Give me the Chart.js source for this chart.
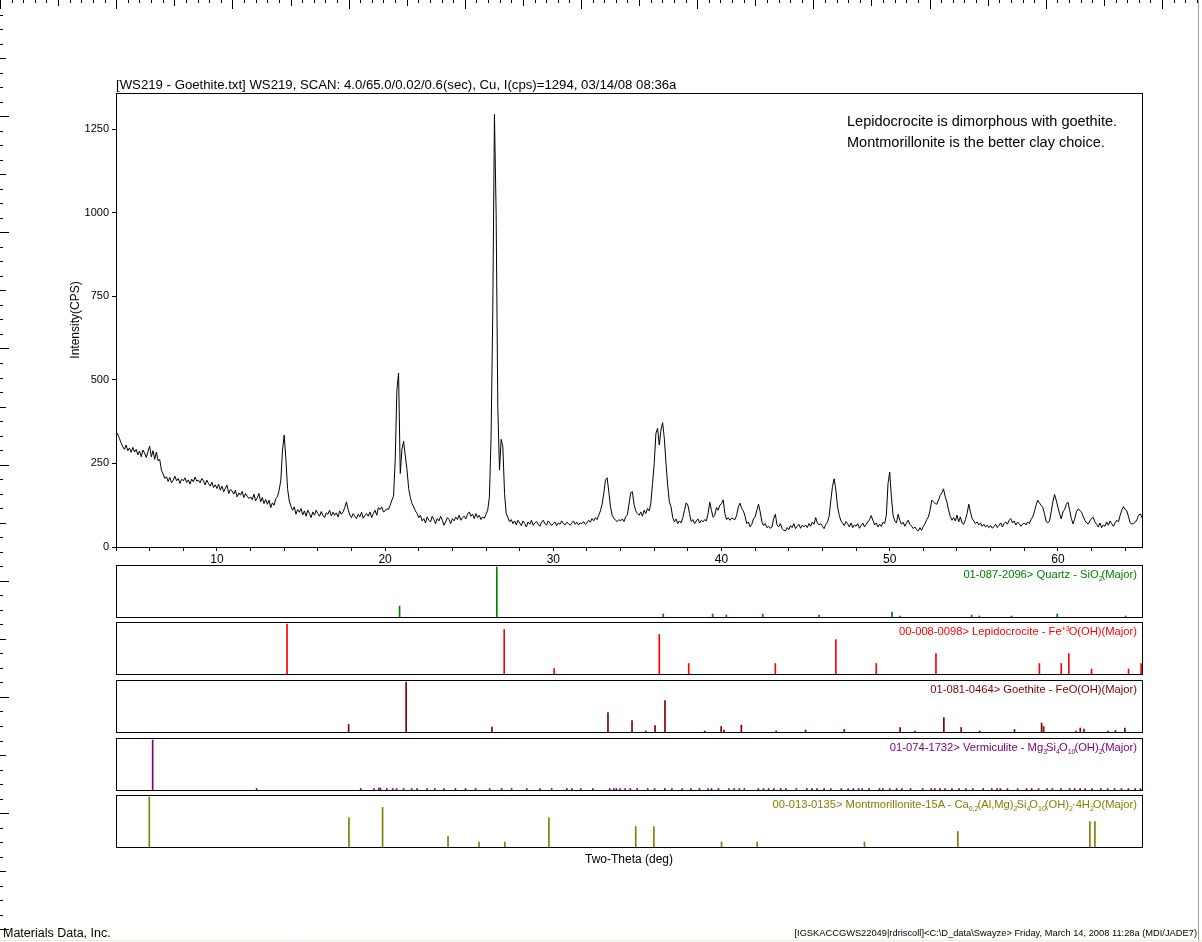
<!DOCTYPE html>
<html lang="en">
<head>
<meta charset="UTF-8">
<title>WS219 - Goethite XRD pattern</title>
<script src="https://cdn.jsdelivr.net/npm/chart.js"></script>
<style>
    body {
        margin: 0;
        padding: 0;
        background: #fff;
        font-family: "Liberation Sans", Arial, sans-serif;
        color: #000;
    }
    #page {
        position: relative;
        width: 1202px;
        height: 942px;
        overflow: hidden;
    }
    #page canvas {
        position: absolute;
        left: 0;
        top: 0;
    }
    .note {
        position: absolute;
        left: 847px;
        top: 111px;
        font-size: 14.5px;
        line-height: 21px;
        white-space: nowrap;
    }
    .card {
        position: absolute;
        right: 65px;
        font-size: 11.2px;
        line-height: 13px;
        white-space: nowrap;
    }
    .card sub, .card sup {
        font-size: 7px;
        line-height: 0;
        position: relative;
        margin-right: -1px;
    }
    .card sub { vertical-align: baseline; top: 3px; }
    .card sup { vertical-align: baseline; top: -4px; }
    .foot-left {
        position: absolute;
        left: 3px;
        top: 926px;
        font-size: 12.5px;
        line-height: 15px;
    }
    .foot-right {
        position: absolute;
        right: 5px;
        top: 928px;
        font-size: 9.3px;
        line-height: 11px;
        white-space: nowrap;
    }
</style>
</head>
<body>
<div id="page">
    <canvas id="mainChart" width="1202" height="942"></canvas>
    <canvas id="quartzChart" width="1202" height="942"></canvas>
    <canvas id="lepidoChart" width="1202" height="942"></canvas>
    <canvas id="goethiteChart" width="1202" height="942"></canvas>
    <canvas id="vermChart" width="1202" height="942"></canvas>
    <canvas id="montChart" width="1202" height="942"></canvas>

    <div class="note">Lepidocrocite is dimorphous with goethite.<br>Montmorillonite is the better clay choice.</div>

    <div class="card" style="top:568px; color:#008000">01-087-2096&gt; Quartz - SiO<sub>2</sub>(Major)</div>
    <div class="card" style="top:625px; color:#ff0000">00-008-0098&gt; Lepidocrocite - Fe<sup>+3</sup>O(OH)(Major)</div>
    <div class="card" style="top:683px; color:#800000">01-081-0464&gt; Goethite - FeO(OH)(Major)</div>
    <div class="card" style="top:741px; color:#800080">01-074-1732&gt; Vermiculite - Mg<sub>3</sub>Si<sub>4</sub>O<sub>10</sub>(OH)<sub>2</sub>(Major)</div>
    <div class="card" style="top:798px; color:#808000">00-013-0135&gt; Montmorillonite-15A - Ca<sub>0.2</sub>(Al,Mg)<sub>2</sub>Si<sub>4</sub>O<sub>10</sub>(OH)<sub>2</sub>·4H<sub>2</sub>O(Major)</div>

    <div class="foot-left">Materials Data, Inc.</div>
    <div class="foot-right">[IGSKACCGWS22049|rdriscoll]&lt;C:\D_data\Swayze&gt; Friday, March 14, 2008 11:28a (MDI/JADE7)</div>
</div>

<script>
    // scan: counts per second, one value every 0.1 deg from 4.0
    const scanStart = 4.0;
    const sampleStep = 0.1;
    const intensity = [
        345, 338, 325, 312, 300, 292, 305, 288, 296, 283,   // 4
        298, 284, 292, 276, 287, 270, 290, 281, 268, 285,   // 5
        302, 270, 288, 262, 284, 258, 262, 230, 218, 205,   // 6
        210, 196, 208, 192, 200, 212, 198, 205, 190, 203,   // 7
        198, 207, 193, 201, 188, 203, 195, 209, 197, 200,   // 8
        192, 205, 198, 186, 200, 190, 182, 194, 178, 186,   // 9
        175, 188, 170, 182, 165, 176, 185, 160, 172, 168,   // 10
        158, 170, 150, 162, 155, 166, 148, 160, 152, 145,   // 11
        150, 142, 158, 138, 147, 160, 135, 148, 130, 142,   // 12
        128, 140, 118, 132, 125, 145, 150, 170, 200, 290,   // 13
        335, 262, 175, 138, 122, 110, 120, 98, 112, 104,    // 14
        115, 96, 108, 92, 110, 100, 88, 105, 95, 110,       // 15
        100, 92, 106, 95, 88, 102, 98, 110, 93, 104,        // 16
        95, 102, 90, 108, 98, 105, 118, 135, 112, 96,       // 17
        88, 100, 92, 85, 98, 90, 104, 86, 95, 100,          // 18
        92, 105, 88, 100, 110, 95, 118, 112, 120, 105,      // 19
        108, 115, 112, 125, 140, 152, 260, 470, 520, 220,   // 20
        292, 316, 272, 232, 175, 148, 130, 120, 108, 100,   // 21
        88, 95, 78, 85, 72, 90, 80, 75, 92, 82,             // 22
        70, 85, 78, 92, 80, 65, 75, 88, 82, 70,             // 23
        85, 78, 90, 82, 95, 80, 88, 92, 84, 98,             // 24
        105, 92, 98, 85, 100, 88, 95, 82, 90, 86,           // 25
        98, 110, 150, 330, 700, 1294, 1000, 420, 230, 322,  // 26
        300, 160, 100, 88, 75, 82, 70, 78, 66, 80,          // 27
        72, 64, 78, 70, 60, 75, 68, 80, 65, 72,             // 28
        76, 68, 62, 74, 80, 70, 66, 78, 72, 64,             // 29
        70, 75, 64, 72, 68, 78, 70, 66, 74, 70,             // 30
        65, 72, 78, 68, 74, 66, 72, 70, 76, 68,             // 31
        72, 80, 74, 85, 78, 88, 82, 95, 108, 128,           // 32
        160, 200, 207, 165, 120, 95, 86, 80, 76, 82,        // 33
        78, 84, 76, 90, 96, 128, 162, 165, 128, 108,        // 34
        100, 95, 105, 92, 110, 100, 115, 108, 132, 190,     // 35
        250, 340, 355, 305, 350, 372, 325, 250, 185, 135,   // 36
        120, 88, 75, 84, 70, 78, 72, 88, 110, 132,          // 37
        125, 100, 76, 82, 70, 78, 84, 72, 80, 75,           // 38
        82, 78, 100, 134, 110, 89, 95, 118, 110, 125,       // 39
        130, 141, 100, 82, 88, 80, 86, 84, 82, 95,          // 40
        120, 131, 115, 108, 92, 70, 75, 60, 68, 84,         // 41
        90, 110, 128, 105, 75, 64, 70, 58, 62, 56,          // 42
        60, 85, 98, 66, 60, 70, 55, 50, 48, 58,             // 43
        52, 64, 58, 70, 55, 62, 68, 56, 65, 60,             // 44
        66, 58, 70, 62, 75, 68, 88, 72, 66, 70,             // 45
        62, 55, 68, 75, 92, 140, 182, 204, 170, 120,        // 46
        95, 78, 72, 64, 76, 70, 60, 72, 58, 66,             // 47
        62, 70, 56, 64, 72, 60, 68, 75, 82, 94,             // 48
        80, 66, 72, 60, 68, 62, 74, 70, 95, 190,            // 49
        224, 150, 95, 78, 72, 98, 80, 68, 74, 62,           // 50
        72, 80, 68, 62, 55, 60, 52, 48, 58, 50,             // 51
        62, 70, 82, 90, 110, 140, 135, 130, 128, 140,       // 52
        154, 162, 174, 150, 135, 110, 92, 80, 88, 78,       // 53
        95, 75, 90, 72, 68, 82, 100, 128, 105, 85,          // 54
        78, 70, 75, 66, 72, 62, 68, 60, 65, 58,             // 55
        64, 56, 62, 68, 58, 65, 72, 60, 70, 75,             // 56
        68, 80, 85, 72, 78, 66, 74, 70, 62, 68,             // 57
        72, 66, 75, 70, 82, 90, 105, 125, 140, 132,         // 58
        125, 119, 100, 76, 72, 78, 105, 135, 157, 140,      // 59
        119, 100, 84, 105, 112, 128, 134, 110, 85, 69,      // 60
        85, 105, 114, 110, 104, 92, 80, 72, 69, 78,         // 61
        85, 89, 75, 68, 60, 72, 58, 66, 62, 75,             // 62
        65, 78, 70, 62, 72, 80, 75, 95, 110, 121,           // 63
        112, 108, 90, 72, 69, 70, 74, 82, 95, 99,           // 64
        88                                                  // 65
    ];

    const xMin = 4, xMax = 65;
    const xTickStep = 2;
    const xTickLabels = [10, 20, 30, 40, 50, 60];
    const yMax = 1358;
    const yTickValues = [0, 250, 500, 750, 1000, 1250];

    // reference patterns: line positions (2-theta) and relative intensity (%)
    const quartzPos = [20.86, 26.64, 36.54, 39.47, 40.29, 42.45, 45.79, 50.14, 50.62, 54.87, 55.33, 57.24, 59.96, 64.03];
    const quartzInt = [22, 100, 6, 6, 4, 6, 4, 10, 2, 4, 2, 2, 6, 2];

    const lepidoPos = [14.17, 27.08, 30.05, 36.3, 38.05, 43.2, 46.8, 49.2, 52.75, 58.9, 60.2, 60.65, 62.0, 64.2, 64.95];
    const lepidoInt = [100, 89, 11, 79, 21, 21, 69, 21, 41, 21, 21, 41, 10, 10, 21];

    const goethitePos = [17.83, 21.25, 26.35, 33.25, 34.68, 35.5, 36.05, 36.64, 39.0, 39.98, 40.15, 41.18, 43.25, 45.0,
        47.3, 50.62, 51.5, 53.22, 54.25, 55.35, 57.42, 59.03, 59.15, 61.08, 61.33, 61.55, 62.98, 63.42, 63.98];
    const goethiteInt = [15, 100, 10, 39, 23, 2, 13, 63, 2, 11, 4, 14, 2, 4,
        5, 9, 2, 29, 9, 2, 5, 18, 11, 2, 8, 6, 2, 3, 8];

    const vermPos = [6.18, 12.36, 18.55, 19.34, 19.62, 19.72, 20.1, 20.45, 20.68, 21.1, 21.58, 21.9, 22.5, 22.95,
        23.5, 24.18, 24.78, 25.38, 26.22, 26.93, 27.52, 28.42, 29.2, 29.9, 30.8, 31.1, 31.63, 32.35, 33.35, 33.6,
        33.75, 33.96, 34.27, 34.58, 34.99, 35.61, 36.02, 36.63, 37.05, 37.66, 38.18, 38.69, 39.2, 39.41, 39.82,
        40.44, 40.75, 41.06, 41.36, 42.19, 42.5, 42.8, 43.11, 43.52, 43.83, 44.45, 45.07, 45.37, 45.68, 46.1,
        46.5, 47.12, 47.53, 47.84, 48.15, 48.36, 48.77, 49.39, 49.59, 50.0, 50.41, 50.72, 51.24, 51.96, 52.47,
        52.68, 52.98, 53.29, 53.7, 54.12, 54.53, 54.94, 55.56, 56.07, 56.38, 56.58, 57.0, 57.61, 58.13, 58.44,
        58.85, 59.36, 59.67, 60.18, 60.7, 61.0, 61.32, 61.62, 62.03, 62.55, 62.96, 63.37, 63.78, 64.19, 64.6, 64.91];
    const vermInt = [100, 3, 3, 3, 4, 4, 3, 3, 3, 3, 3, 3, 3, 3,
        3, 3, 3, 3, 3, 3, 3, 3, 3, 3, 3, 3, 3, 3, 3, 3,
        3, 3, 3, 3, 3, 3, 3, 3, 3, 3, 3, 3, 3, 3, 3,
        3, 3, 3, 3, 3, 3, 3, 3, 3, 3, 3, 3, 3, 3, 3,
        3, 3, 3, 3, 3, 3, 3, 3, 3, 3, 3, 3, 3, 3, 3,
        3, 3, 3, 3, 3, 3, 3, 3, 3, 3, 3, 3, 3, 3, 3,
        3, 3, 3, 3, 3, 3, 3, 3, 3, 3, 3, 3, 3, 3, 3, 3];

    const montPos = [5.98, 17.85, 19.85, 23.74, 25.58, 27.12, 29.74, 34.9, 35.98, 40.0, 42.12, 48.5, 54.05, 61.9, 62.2];
    const montInt = [100, 59, 79, 21, 10, 10, 59, 41, 41, 10, 10, 10, 31, 51, 51];

    const titleText = '[WS219 - Goethite.txt] WS219, SCAN: 4.0/65.0/0.02/0.6(sec), Cu, I(cps)=1294, 03/14/08 08:36a';

    Chart.defaults.font.family = '"Liberation Sans", Arial, sans-serif';
    Chart.defaults.color = '#000';

    // box round the plotting area
    const framePlugin = {
        id: 'frame',
        afterDatasetsDraw(chart) {
            const { ctx, chartArea: a } = chart;
            ctx.save();
            ctx.strokeStyle = '#000';
            ctx.lineWidth = 1;
            ctx.strokeRect(Math.round(a.left) + 0.5, Math.round(a.top) + 0.5,
                Math.round(a.right - a.left), Math.round(a.bottom - a.top));
            ctx.restore();
        }
    };

    // page rulers on the top and left edges
    const rulerPlugin = {
        id: 'ruler',
        beforeDraw(chart) {
            const ctx = chart.ctx;
            ctx.save();
            ctx.strokeStyle = '#000';
            ctx.lineWidth = 1;
            ctx.beginPath();
            for (let i = 0; i * 11.62 < 1200; i++) {
                const x = Math.round(i * 11.62) + 0.5;
                const len = i % 10 === 0 ? 9 : (i % 5 === 0 ? 6 : 3);
                ctx.moveTo(x, 0);
                ctx.lineTo(x, len);
            }
            for (let i = 1; i * 14.52 < 930; i++) {
                const y = Math.round(i * 14.52) + 0.5;
                const len = i % 8 === 0 ? 9 : (i % 4 === 0 ? 6 : 3);
                ctx.moveTo(0, y);
                ctx.lineTo(len, y);
            }
            ctx.stroke();
            ctx.strokeStyle = '#a0a0a0';
            ctx.beginPath();
            ctx.moveTo(1198.5, 0);
            ctx.lineTo(1198.5, 942);
            ctx.stroke();
            ctx.strokeStyle = '#ece9d8';
            ctx.beginPath();
            ctx.moveTo(0, 940.5);
            ctx.lineTo(1202, 940.5);
            ctx.stroke();
            ctx.restore();
        }
    };

    function zeroPadding(scale) {
        scale.paddingLeft = 0;
        scale.paddingRight = 0;
        scale.paddingTop = 0;
        scale.paddingBottom = 0;
    }

    const scanPoints = intensity.map((v, i) => ({ x: scanStart + i * sampleStep, y: v }));

    new Chart(document.getElementById('mainChart'), {
        type: 'line',
        data: {
            datasets: [{
                data: scanPoints,
                borderColor: '#000',
                borderWidth: 1,
                pointRadius: 0,
                tension: 0,
                fill: false
            }]
        },
        options: {
            responsive: false,
            animation: false,
            events: [],
            layout: { padding: { left: 0, right: 60, top: 77.16, bottom: 375 } },
            plugins: {
                legend: { display: false },
                tooltip: { enabled: false },
                title: {
                    display: true,
                    text: titleText,
                    align: 'start',
                    fullSize: false,
                    color: '#000',
                    font: { size: 13.2, weight: 'normal' },
                    padding: { top: 0, bottom: 0 }
                }
            },
            scales: {
                x: {
                    type: 'linear',
                    min: xMin,
                    max: xMax,
                    afterBuildTicks: scale => {
                        const ticks = [];
                        for (let v = xMin; v < xMax; v += xTickStep) ticks.push({ value: v });
                        scale.ticks = ticks;
                    },
                    afterFit: scale => { scale.height = 20; zeroPadding(scale); },
                    ticks: {
                        autoSkip: false,
                        maxRotation: 0,
                        padding: 1,
                        font: { size: 12 },
                        callback: v => xTickLabels.includes(v) ? String(v) : ''
                    },
                    grid: { drawOnChartArea: false, tickLength: 4, color: '#000' },
                    border: { color: '#000' }
                },
                y: {
                    min: 0,
                    max: yMax,
                    afterBuildTicks: scale => {
                        scale.ticks = yTickValues.map(v => ({ value: v }));
                    },
                    afterFit: scale => { scale.width = 116; zeroPadding(scale); },
                    ticks: { padding: 3, font: { size: 11 }, callback: v => String(v) },
                    grid: { drawOnChartArea: false, tickLength: 4, color: '#000' },
                    border: { color: '#000' },
                    title: {
                        display: true,
                        text: 'Intensity(CPS)',
                        font: { size: 12 },
                        padding: { top: 68, bottom: 0 }
                    }
                }
            }
        },
        plugins: [rulerPlugin, framePlugin]
    });

    function stickPanel(canvasId, top, bottom, positions, heights, color, xTitle) {
        const xScale = {
            type: 'linear',
            min: xMin,
            max: xMax,
            offset: false,
            display: false
        };
        let padBottom = 942 - bottom;
        if (xTitle) {
            Object.assign(xScale, {
                display: true,
                ticks: { display: false },
                grid: { display: false },
                border: { display: false },
                title: { display: true, text: xTitle, font: { size: 12 }, padding: { top: 0, bottom: 0 } },
                afterFit: scale => { scale.height = 20; zeroPadding(scale); }
            });
            padBottom -= 20;
        }
        return new Chart(document.getElementById(canvasId), {
            type: 'bar',
            data: {
                datasets: [{
                    data: positions.map((p, i) => ({ x: p, y: heights[i] })),
                    backgroundColor: color,
                    borderWidth: 0,
                    barThickness: 1
                }]
            },
            options: {
                responsive: false,
                animation: false,
                events: [],
                layout: { padding: { left: 116, right: 60, top: top, bottom: padBottom } },
                plugins: { legend: { display: false }, tooltip: { enabled: false } },
                scales: {
                    x: xScale,
                    y: { min: 0, max: 104, display: false }
                }
            },
            plugins: [framePlugin]
        });
    }

    stickPanel('quartzChart', 565, 617, quartzPos, quartzInt, '#008000');
    stickPanel('lepidoChart', 622, 674, lepidoPos, lepidoInt, '#ff0000');
    stickPanel('goethiteChart', 680, 732, goethitePos, goethiteInt, '#800000');
    stickPanel('vermChart', 738, 790, vermPos, vermInt, '#800080');
    stickPanel('montChart', 795, 847, montPos, montInt, '#808000', 'Two-Theta (deg)');
</script>
</body>
</html>
